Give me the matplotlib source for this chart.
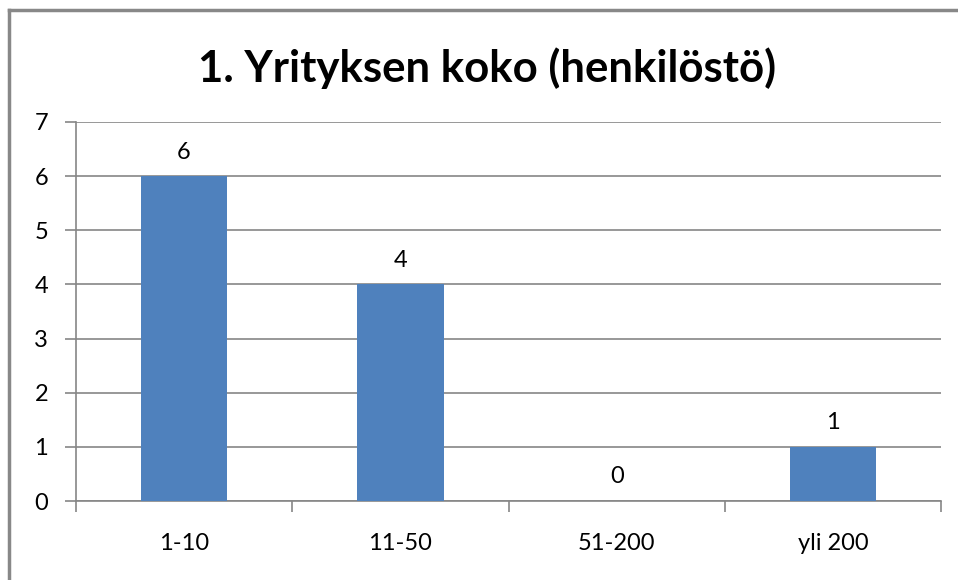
import matplotlib.pyplot as plt
from matplotlib.lines import Line2D

categories = ["1-10", "11-50", "51-200", "yli 200"]
counts = [6, 4, 0, 1]
title = "1. Yrityksen koko (henkilöstö)"

plt.rcParams['font.family'] = ['Lato', 'DejaVu Sans']

fig = plt.figure(figsize=(9.58, 5.80), dpi=100)
ax = fig.add_axes([0.0793, 0.1362, 0.9030, 0.6535])

x = range(len(categories))
bars = ax.bar(x, counts, width=0.4, color='#4F81BD', zorder=3)
for xi, v in zip(x, counts):
    ax.text(xi, v + 0.25, str(v), ha='center', va='bottom', fontsize=17, color='#000000')

ax.set_xlim(-0.5, len(categories) - 0.5)
ax.set_ylim(0, 7)
ax.set_yticks(range(8))
ax.set_xticks(list(x))
ax.set_xticklabels(categories)
ax.set_xticks([i - 0.5 for i in range(len(categories) + 1)], minor=True)
ax.tick_params(axis='x', which='major', length=0, pad=23, labelsize=17)
ax.tick_params(axis='x', which='minor', length=8, color='#868686', width=1.2)
ax.tick_params(axis='y', length=8, color='#868686', width=1.2, pad=12, labelsize=17)
ax.grid(axis='y', color='#868686', linewidth=1.2, zorder=0)
for s in ['top', 'right']:
    ax.spines[s].set_visible(False)
for s in ['left', 'bottom']:
    ax.spines[s].set_color('#868686')
    ax.spines[s].set_linewidth(1.2)

fig.text(0.508, 0.882, title, ha='center', va='center', fontsize=31.5, fontweight='bold')

# chart frame (only top and left edges visible)
fig.add_artist(Line2D([0.009, 1.0], [0.983, 0.983], color='#888888', linewidth=2.5))
fig.add_artist(Line2D([0.009, 0.009], [0.0, 0.983], color='#888888', linewidth=2.5))

fig.savefig('out.png', dpi=100)
